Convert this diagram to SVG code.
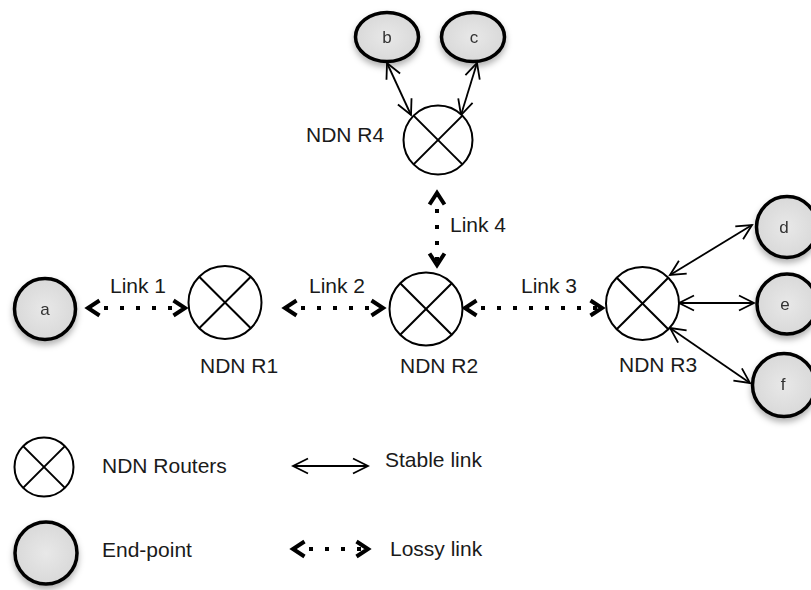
<svg xmlns="http://www.w3.org/2000/svg" width="811" height="590" viewBox="0 0 811 590">
<style>
.lbl{font-family:"Liberation Sans",Arial,sans-serif;font-size:21px;fill:#1a1a1a}
.ep{font-family:"Liberation Sans",Arial,sans-serif;font-size:17px;fill:#333;text-anchor:middle}
.router circle{fill:#fff;stroke:#000;stroke-width:2}
.router line{stroke:#000;stroke-width:2}
.endpoint ellipse,.endpoint circle{fill:url(#epfill);stroke:#000;stroke-width:3.5}
.stable{stroke:#000;stroke-width:1.8;fill:none;marker-start:url(#stab);marker-end:url(#stab)}
.lossy{stroke:#000;stroke-width:4;stroke-dasharray:4 12;fill:none;marker-start:url(#loss);marker-end:url(#loss)}
</style>
<defs>
<radialGradient id="epfill" cx="0.5" cy="0.5" r="0.6">
<stop offset="0" stop-color="#e8e8e8"/>
<stop offset="1" stop-color="#d6d6d6"/>
</radialGradient>
<filter id="sh" x="-30%" y="-30%" width="160%" height="170%">
<feDropShadow dx="0" dy="4" stdDeviation="3" flood-color="#000" flood-opacity="0.3"/>
</filter>
<marker id="stab" markerUnits="userSpaceOnUse" viewBox="0 0 18 18" refX="16" refY="9" markerWidth="18" markerHeight="18" orient="auto-start-reverse">
<path d="M1,1.5 L16,9 L1,16.5" fill="none" stroke="#000" stroke-width="1.8" stroke-dasharray="none"/>
</marker>
<marker id="loss" markerUnits="userSpaceOnUse" viewBox="0 0 18 20" refX="14" refY="10" markerWidth="18" markerHeight="20" orient="auto-start-reverse">
<path d="M2.5,2.5 L14,10 L2.5,17.5" fill="none" stroke="#000" stroke-width="4" stroke-dasharray="none" stroke-linejoin="miter"/>
</marker>
</defs>

<g id="connectors">
<line class="lossy" x1="88" y1="308" x2="185" y2="308"/>
<line class="lossy" x1="285" y1="308" x2="383" y2="308"/>
<line class="lossy" x1="465" y1="308" x2="602" y2="308"/>
<line class="lossy" x1="437" y1="193" x2="437" y2="265"/>
<line class="stable" x1="387" y1="63" x2="411" y2="115"/>
<line class="stable" x1="477" y1="63" x2="461" y2="115"/>
<line class="stable" x1="670" y1="275" x2="752" y2="225"/>
<line class="stable" x1="679" y1="303" x2="754" y2="303"/>
<line class="stable" x1="670" y1="328" x2="750" y2="383"/>
<text class="lbl" x="110" y="293">Link 1</text>
<text class="lbl" x="309" y="293">Link 2</text>
<text class="lbl" x="521" y="293">Link 3</text>
<text class="lbl" x="450" y="232">Link 4</text>
</g>

<g id="a" class="endpoint" filter="url(#sh)">
<circle cx="45" cy="309" r="30.5"/>
<text class="ep" x="45" y="315">a</text>
</g>
<g id="b" class="endpoint" filter="url(#sh)">
<ellipse cx="387" cy="37" rx="31.5" ry="24.5"/>
<text class="ep" x="387" y="43">b</text>
</g>
<g id="c" class="endpoint" filter="url(#sh)">
<ellipse cx="473" cy="37" rx="31.5" ry="24.5"/>
<text class="ep" x="474" y="43">c</text>
</g>
<g id="d" class="endpoint" filter="url(#sh)">
<circle cx="787" cy="227" r="30.5"/>
<text class="ep" x="784" y="233">d</text>
</g>
<g id="e" class="endpoint" filter="url(#sh)">
<circle cx="787" cy="304" r="30"/>
<text class="ep" x="785" y="310">e</text>
</g>
<g id="f" class="endpoint" filter="url(#sh)">
<circle cx="784" cy="385" r="31.5"/>
<text class="ep" x="783" y="390">f</text>
</g>

<g id="R1" class="router">
<circle cx="225" cy="302.5" r="36.5"/>
<line x1="199.2" y1="276.7" x2="250.8" y2="328.3"/>
<line x1="250.8" y1="276.7" x2="199.2" y2="328.3"/>
<text class="lbl" x="200" y="373">NDN R1</text>
</g>
<g id="R2" class="router">
<circle cx="426" cy="309" r="36.5"/>
<line x1="400.2" y1="283.2" x2="451.8" y2="334.8"/>
<line x1="451.8" y1="283.2" x2="400.2" y2="334.8"/>
<text class="lbl" x="400" y="373">NDN R2</text>
</g>
<g id="R3" class="router">
<circle cx="642.5" cy="303.5" r="36.5"/>
<line x1="616.7" y1="277.7" x2="668.3" y2="329.3"/>
<line x1="668.3" y1="277.7" x2="616.7" y2="329.3"/>
<text class="lbl" x="619" y="372">NDN R3</text>
</g>
<g id="R4" class="router">
<circle cx="438" cy="140" r="34.5"/>
<line x1="413.6" y1="115.6" x2="462.4" y2="164.4"/>
<line x1="462.4" y1="115.6" x2="413.6" y2="164.4"/>
<text class="lbl" x="306" y="142">NDN R4</text>
</g>

<g id="legend">
<g id="legend-router" class="router">
<circle cx="44" cy="467" r="29.5"/>
<line x1="23.1" y1="446.1" x2="64.9" y2="487.9"/>
<line x1="64.9" y1="446.1" x2="23.1" y2="487.9"/>
</g>
<text class="lbl" x="102" y="473">NDN Routers</text>
<g id="legend-endpoint" class="endpoint" filter="url(#sh)">
<circle cx="46" cy="553" r="31"/>
</g>
<text class="lbl" x="102" y="557">End-point</text>
<line class="stable" x1="293" y1="466" x2="368" y2="466"/>
<text class="lbl" x="385" y="467">Stable link</text>
<line class="lossy" x1="293" y1="549" x2="368" y2="549"/>
<text class="lbl" x="390" y="556">Lossy link</text>
</g>
</svg>
